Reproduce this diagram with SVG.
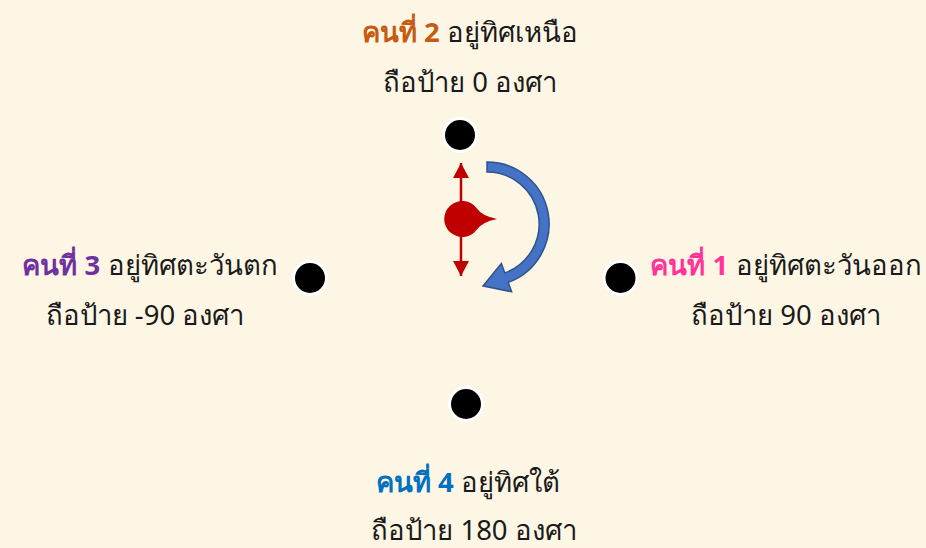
<svg xmlns="http://www.w3.org/2000/svg" width="926" height="548" viewBox="0 0 926 548">
<style>
text{font-family:"Noto Sans","DejaVu Sans",sans-serif;font-size:27.5px;fill:#1a1a1a}
.c2{fill:#C55A11;font-weight:bold}
.c3{fill:#7030A0;font-weight:bold}
.c1{fill:#FF3399;font-weight:bold}
.c4{fill:#0070C0;font-weight:bold}
.dot{fill:#000;stroke:#fff;stroke-width:3}
</style>
<defs>
<marker id="ah" viewBox="0 0 10 10" refX="10" refY="5" markerWidth="15" markerHeight="16" preserveAspectRatio="none" markerUnits="userSpaceOnUse" orient="auto">
<path d="M0,0 L10,5 L0,10 Z" fill="#C00000"/>
</marker>
</defs>
<rect width="926" height="548" fill="#FEF6E4"/>
<g id="person2">
<circle class="dot" cx="460" cy="135" r="16.5"/>
<text x="470" y="42" text-anchor="middle"><tspan class="c2">คนที่ 2</tspan> อยู่ทิศเหนือ</text>
<text x="470" y="92" text-anchor="middle">ถือป้าย 0 องศา</text>
</g>
<g id="person3">
<circle class="dot" cx="310" cy="278" r="16.5"/>
<text x="150" y="275" text-anchor="middle"><tspan class="c3">คนที่ 3</tspan> อยู่ทิศตะวันตก</text>
<text x="145" y="325" text-anchor="middle">ถือป้าย -90 องศา</text>
</g>
<g id="person1">
<circle class="dot" cx="620.5" cy="278" r="16.5"/>
<text x="786" y="275" text-anchor="middle"><tspan class="c1">คนที่ 1</tspan> อยู่ทิศตะวันออก</text>
<text x="786" y="325" text-anchor="middle">ถือป้าย 90 องศา</text>
</g>
<g id="person4">
<circle class="dot" cx="466" cy="404" r="16.5"/>
<text x="468" y="492" text-anchor="middle"><tspan class="c4">คนที่ 4</tspan> อยู่ทิศใต้</text>
<text x="474" y="540" text-anchor="middle">ถือป้าย 180 องศา</text>
</g>
<g id="pointer">
<line x1="461" y1="219" x2="461" y2="163" stroke="#C00000" stroke-width="2.5" marker-end="url(#ah)"/>
<line x1="461" y1="219" x2="461" y2="276" stroke="#C00000" stroke-width="2.5" marker-end="url(#ah)"/>
<path d="M476.7,208.3 Q482,216 497,219 Q482,222 476.7,229.7 A18,18 0 1 1 476.7,208.3 Z" fill="#C00000"/>
</g>
<g id="connectors">
<path d="M487,162 A62,62 0 0 1 508.2,282.3 L511.6,291.7 L483,286 L501.4,263.5 L504.8,272.9 A52,52 0 0 0 487,172 Z" fill="#4472C4" stroke="#2F528F" stroke-width="1.5" stroke-linejoin="miter"/>
</g>
</svg>
